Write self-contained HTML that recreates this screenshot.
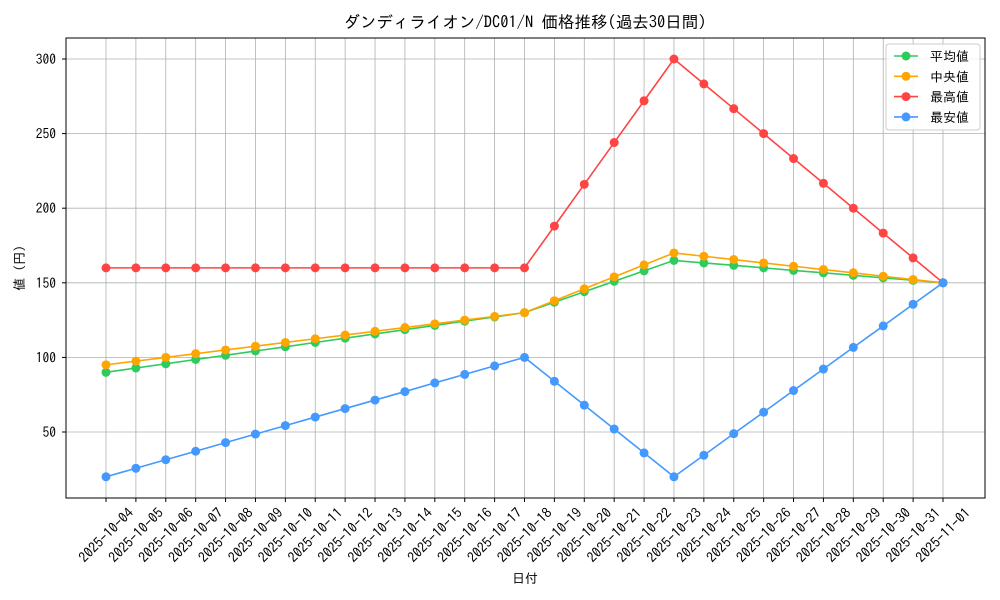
<!DOCTYPE html>
<html><head><meta charset="utf-8">
<style>
html,body{margin:0;padding:0;background:#fff;}
svg{display:block;font-family:"IPAGothic","Liberation Sans","Noto Sans CJK JP",sans-serif;}
</style></head>
<body>
<svg id="chart" width="1000" height="600" viewBox="0 0 1000 600" xmlns="http://www.w3.org/2000/svg">
<rect width="1000" height="600" fill="#fff"/>
<text x="525" y="28" font-size="16.5" text-anchor="middle" fill="#000">ダンディライオン/DC01/N 価格推移(過去30日間)</text>
<g id="grid"></g>
<g id="axes"></g>
<g id="series"></g>
<rect x="66" y="38" width="919" height="460" fill="none" stroke="#000" stroke-width="1"/>
<text x="525" y="583" font-size="13" text-anchor="middle">日付</text>
<text transform="translate(24,268) rotate(-90)" font-size="13" text-anchor="middle">値 (円)</text>
<g id="legend"></g>
</svg>
<script>
const dates=["2025-10-04","2025-10-05","2025-10-06","2025-10-07","2025-10-08","2025-10-09","2025-10-10","2025-10-11","2025-10-12","2025-10-13","2025-10-14","2025-10-15","2025-10-16","2025-10-17","2025-10-18","2025-10-19","2025-10-20","2025-10-21","2025-10-22","2025-10-23","2025-10-24","2025-10-25","2025-10-26","2025-10-27","2025-10-28","2025-10-29","2025-10-30","2025-10-31","2025-11-01"];
const meanVals=[90,92.9,95.7,98.6,101.4,104.3,107.1,110,112.9,115.7,118.6,121.4,124.3,127.1,130,137,144,151,158,165,163.3,161.7,160,158.3,156.7,155,153.3,151.7,150];
const medianVals=[95,97.5,100,102.5,105,107.5,110,112.5,115,117.5,120,122.5,125,127.5,130,138,146,154,162,170,167.8,165.6,163.3,161.1,158.9,156.7,154.4,152.2,150];
const maxVals=[160,160,160,160,160,160,160,160,160,160,160,160,160,160,160,188,216,244,272,300,283.3,266.7,250,233.3,216.7,200,183.3,166.7,150];
const minVals=[20,25.7,31.4,37.1,42.9,48.6,54.3,60,65.7,71.4,77.1,82.9,88.6,94.3,100,84,68,52,36,20,34.4,48.9,63.3,77.8,92.2,106.7,121.1,135.6,150];
const yTicks=[50,100,150,200,250,300];
const seriesNames=["平均値","中央値","最高値","最安値"];
const seriesColors=["#2ecc5f","#ffa500","#ff4444","#4499ff"];
const seriesData=[meanVals,medianVals,maxVals,minVals];

const NS="http://www.w3.org/2000/svg";
const X0=106,X1=943;
function xs(i){return X0+(X1-X0)*i/(dates.length-1);}
function ys(v){return 432-(v-50)*(373/250);}
function mk(tag,attrs,parent){const e=document.createElementNS(NS,tag);for(const k in attrs)e.setAttribute(k,attrs[k]);parent.appendChild(e);return e;}
const grid=document.getElementById('grid'),axes=document.getElementById('axes'),ser=document.getElementById('series'),leg=document.getElementById('legend');
dates.forEach((d,i)=>{
  const x=xs(i);
  const gl=mk('line',{x1:x,x2:x,y1:38,y2:498,stroke:'#b0b0b0','stroke-width':0.8},grid);
  
  
  mk('line',{x1:x,x2:x,y1:498,y2:502,stroke:'#000'},axes);
  const cy=535;
  const t=mk('text',{x:x,y:cy+5,'font-size':14,'text-anchor':'middle',transform:`rotate(-45 ${x} ${cy})`},axes);
  t.textContent=d;
  
  
});
yTicks.forEach(v=>{
  const y=ys(v);
  const gl=mk('line',{x1:66,x2:985,y1:y,y2:y,stroke:'#b0b0b0','stroke-width':0.8},grid);
  
  
  mk('line',{x1:62,x2:66,y1:y,y2:y,stroke:'#000'},axes);
  const t=mk('text',{x:56,y:y+5,'font-size':13.5,'text-anchor':'end'},axes);
  t.textContent=v;
  
  
});
seriesData.forEach((vals,s)=>{
  const g=mk('g',{},ser);
  
  
  mk('polyline',{points:vals.map((v,i)=>xs(i)+','+ys(v)).join(' '),fill:'none',stroke:seriesColors[s],'stroke-width':1.6},g);
  vals.forEach((v,i)=>{
    const c=mk('circle',{cx:xs(i),cy:ys(v),r:4.5,fill:seriesColors[s]},g);
    
    
  });
});
mk('rect',{x:886,y:44,width:94,height:86,rx:3,fill:'#fff','fill-opacity':0.85,stroke:'#ccc'},leg);
seriesNames.forEach((n,s)=>{
  const y=56+s*20.3;
  const e=mk('g',{},leg);
  
  
  mk('line',{x1:894,x2:918,y1:y,y2:y,stroke:seriesColors[s],'stroke-width':1.6},e);
  mk('circle',{cx:906,cy:y,r:4.5,fill:seriesColors[s]},e);
  const t=mk('text',{x:930,y:y+5,'font-size':13},e);
  t.textContent=n;
});
</script>
</body></html>
